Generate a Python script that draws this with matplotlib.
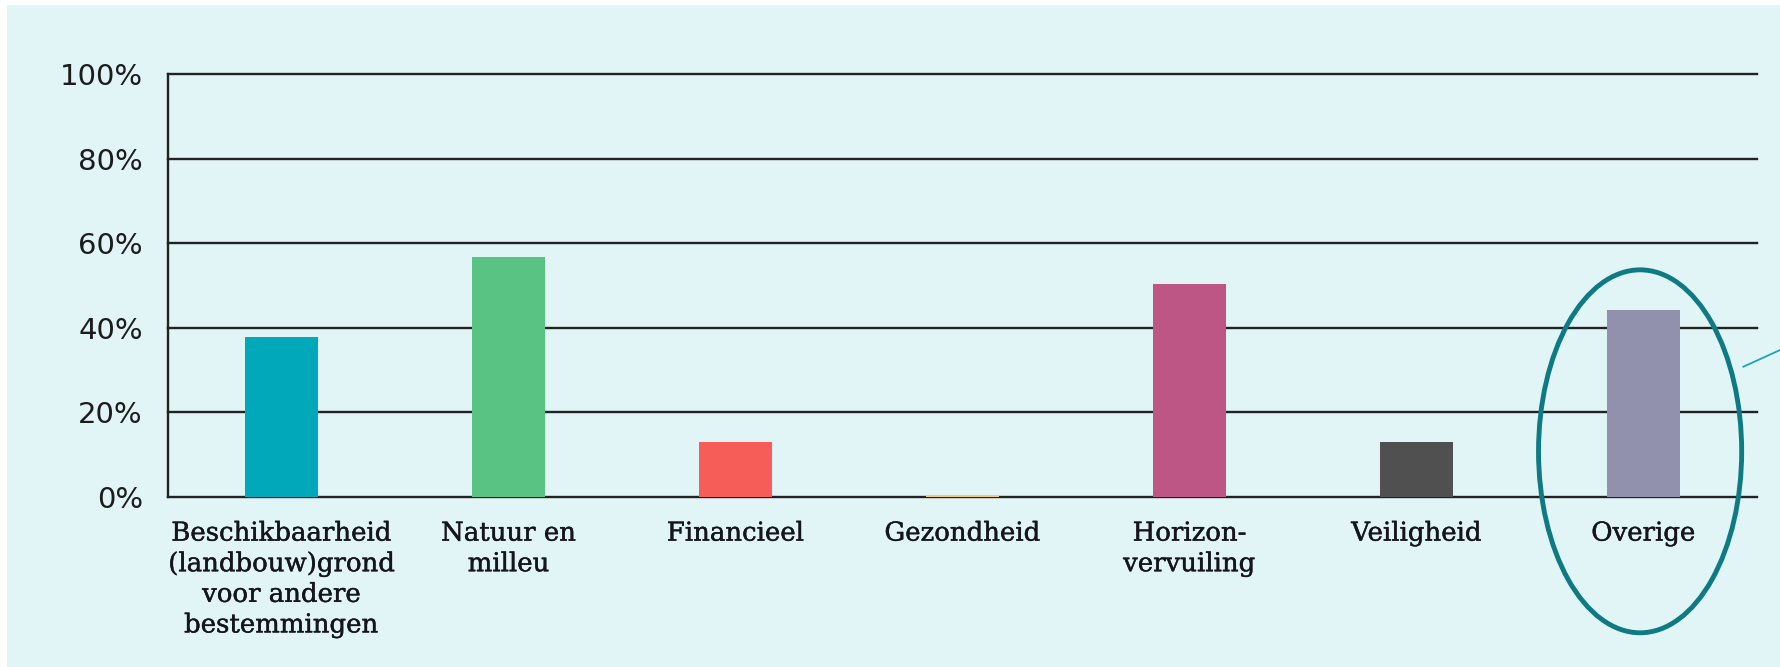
import numpy as np
import matplotlib.pyplot as plt
import matplotlib.patheffects as pe
from matplotlib.patches import Rectangle, Ellipse

# categorie-namen en percentages
categorieen = ['Beschikbaarheid\n(landbouw)grond\nvoor andere\nbestemmingen',
               'Natuur en\nmilleu', 'Financieel', 'Gezondheid',
               'Horizon-\nvervuiling', 'Veiligheid', 'Overige']
waarden = [37.8, 56.7, 12.9, 0.5, 50.4, 12.9, 44.1]
kleuren = ['#00a8b9', '#58c382', '#f65c58', '#f7c77d', '#bd5585', '#505050', '#9190ad']
yticks = [0, 20, 40, 60, 80, 100]

bg = '#e1f4f6'
lijn = '#222222'

fig = plt.figure(figsize=(17.8, 6.67), dpi=100, facecolor='white')
fig.patches.append(Rectangle((7/1780, 0), 1, 1 - 5/667, transform=fig.transFigure,
                             facecolor=bg, edgecolor='none', zorder=-10))

ax = fig.add_axes([168/1780, 1 - 497/667, (1757 - 168)/1780, (497 - 74)/667])
ax.set_facecolor('none')

x = np.arange(len(categorieen))
ax.bar(x, waarden, width=0.325, color=kleuren, zorder=3)

ax.set_xlim(-0.5, len(categorieen) - 0.5)
ax.set_ylim(0, 100)
ax.set_yticks(yticks)
ax.set_yticklabels(['%d%%' % v for v in yticks], fontsize=21, family='DejaVu Sans', color='#1c1c1c')
ax.set_xticks(x)
ax.set_xticklabels(categorieen, fontsize=18.7, family='DejaVu Serif', color='#15151c',
                   linespacing=1.28, va='top')
for t in ax.get_xticklabels():
    t.set_path_effects([pe.withStroke(linewidth=0.3, foreground='#15151c')])
ax.tick_params(axis='both', length=0)
ax.tick_params(axis='y', pad=18)
ax.tick_params(axis='x', pad=17)

# horizontale lijnen
for v in yticks:
    ax.axhline(v, color=lijn, lw=1.7, zorder=2, clip_on=False)
for s in ['top', 'right', 'bottom']:
    ax.spines[s].set_visible(False)
ax.spines['left'].set_color(lijn)
ax.spines['left'].set_linewidth(1.7)

# ellips rond 'Overige' en het lijntje naar rechts
ax.add_patch(Ellipse((5.985, 10.8), 0.895, 85.8, fill=False, edgecolor='#0d7a84',
                     lw=3.5, clip_on=False, zorder=5))
ax.plot([6.44, 6.62], [30.8, 35.2], color='#1ba6b6', lw=1.3, clip_on=False, zorder=5)

fig.savefig('out.png', dpi=100, facecolor=fig.get_facecolor())
